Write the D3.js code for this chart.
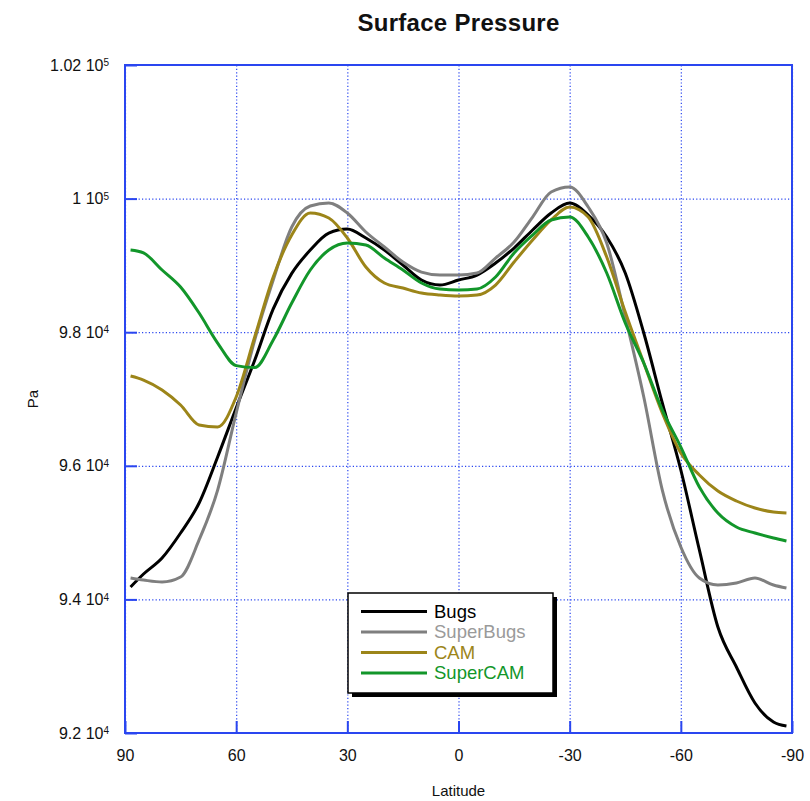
<!DOCTYPE html>
<html>
<head>
<meta charset="utf-8">
<script src="https://cdn.jsdelivr.net/npm/d3@7"></script>
<style>
  body { margin: 0; background: #fff; }
  svg { font-family: "Liberation Sans", Arial, sans-serif; }
</style>
</head>
<body>
<svg id="chart"></svg>
<script>
// latitude (deg), north to south
const lats = [88.5, 85, 80, 75, 70, 65, 60, 55, 50, 45, 40, 35, 30, 25, 20, 15, 10, 5, 0,
  -5, -10, -15, -20, -25, -30, -35, -40, -45, -50, -55, -60, -65, -70, -75, -80, -85, -88.5];

// surface pressure (Pa)
const bugs = [94186, 94380, 94620, 94994, 95443, 96132, 96865, 97580, 98350, 98880, 99230, 99485, 99545,
  99410, 99230, 99006, 98781, 98706, 98781, 98856, 99035, 99260, 99530, 99784, 99934,
  99754, 99425, 98886, 97988, 96940, 95937, 94740, 93587, 92988, 92449, 92165, 92105];
const superBugs = [94320, 94290, 94260, 94335, 94890, 95637, 96790, 97883, 98781, 99575, 99889, 99934, 99784,
  99500, 99275, 99050, 98900, 98856, 98856, 98886, 99110, 99350, 99724, 100099, 100174,
  99874, 99335, 98228, 97030, 95637, 94784, 94320, 94215, 94245, 94320, 94215, 94170];
const cam = [97344, 97284, 97135, 96910, 96611, 96581, 97030, 97928, 98826, 99455, 99784, 99709, 99410,
  98976, 98736, 98661, 98586, 98556, 98541, 98556, 98706, 99050, 99380, 99680, 99874,
  99724, 99125, 98302, 97539, 96790, 96191, 95862, 95622, 95473, 95368, 95308, 95293];
const superCam = [99230, 99186, 98931, 98676, 98287, 97838, 97500, 97470, 97883, 98437, 98931, 99230, 99335,
  99305, 99110, 98931, 98736, 98646, 98631, 98646, 98826, 99186, 99455, 99680, 99724,
  99425, 98886, 98138, 97539, 96835, 96281, 95682, 95293, 95084, 94994, 94919, 94874];

const seriesNames = ["Bugs", "SuperBugs", "CAM", "SuperCAM"];
const seriesValues = [bugs, superBugs, cam, superCam];

const xTicks = [90, 60, 30, 0, -30, -60, -90];
const yTicks = [92000, 94000, 96000, 98000, 100000, 102000];
const yTickMantissa = ["9.2", "9.4", "9.6", "9.8", "1", "1.02"];
const yTickExponent = ["4", "4", "4", "4", "5", "5"];

const lineColors = ["#000000", "#7f7f7f", "#9c8519", "#12962a"];
const textColors = ["#000000", "#9a9a9a", "#9c8519", "#12962a"];
const gridBlue = "#2a46f0";

const w = 810;
const h = 801;
const margin = { top: 65, right: 18, bottom: 68, left: 125 };

const svg = d3.select("#chart").attr("width", w).attr("height", h);

const x = d3.scaleLinear().domain([90, -90]).range([margin.left, w - margin.right]);
const y = d3.scaleLinear().domain([92000, 102000]).range([h - margin.bottom, margin.top]);

const pw = w - margin.left - margin.right;
const ph = h - margin.top - margin.bottom;

// dotted grid
svg.append("g")
  .attr("transform", `translate(0, ${h - margin.bottom})`)
  .call(d3.axisBottom(x).tickValues(xTicks).tickSize(-ph).tickFormat(""))
  .call(g => g.select(".domain").remove())
  .selectAll("line")
  .attr("stroke", gridBlue).attr("stroke-width", 1.2).attr("stroke-dasharray", "1.2,2.2");

svg.append("g")
  .attr("transform", `translate(${margin.left}, 0)`)
  .call(d3.axisLeft(y).tickValues(yTicks).tickSize(-pw).tickFormat(""))
  .call(g => g.select(".domain").remove())
  .selectAll("line")
  .attr("stroke", gridBlue).attr("stroke-width", 1.2).attr("stroke-dasharray", "1.2,2.2");

// lines
const line = d3.line()
  .x((d, i) => x(lats[i]))
  .y(d => y(d))
  .curve(d3.curveMonotoneX);

svg.append("g")
  .selectAll("path")
  .data(seriesValues)
  .enter()
  .append("path")
  .attr("d", d => line(d))
  .attr("fill", "none")
  .attr("stroke", (d, i) => lineColors[i])
  .attr("stroke-width", 3)
  .attr("stroke-linejoin", "round");

// frame
svg.append("rect")
  .attr("x", margin.left).attr("y", margin.top)
  .attr("width", pw).attr("height", ph)
  .attr("fill", "none").attr("stroke", gridBlue).attr("stroke-width", 2);

// axes with inward ticks
const xAxis = svg.append("g")
  .attr("transform", `translate(0, ${h - margin.bottom})`)
  .call(d3.axisBottom(x).tickValues(xTicks).tickSize(-12).tickPadding(17).tickFormat(d => String(d)));

const yAxis = svg.append("g")
  .attr("transform", `translate(${margin.left}, 0)`)
  .call(d3.axisLeft(y).tickValues(yTicks).tickSize(-12).tickPadding(16));

[xAxis, yAxis].forEach(g => {
  g.select(".domain").remove();
  g.selectAll(".tick line").attr("stroke", gridBlue).attr("stroke-width", 2);
  g.selectAll(".tick text").attr("fill", "#111").style("font-size", "16px");
});

yAxis.selectAll(".tick text")
  .text((d, i) => yTickMantissa[i] + " 10")
  .append("tspan")
  .attr("dy", "-0.45em")
  .style("font-size", "10px")
  .text((d, i) => yTickExponent[i]);

// title and axis labels
svg.append("text")
  .attr("x", x(0)).attr("y", 31)
  .attr("text-anchor", "middle")
  .style("font-size", "24px").style("font-weight", "bold")
  .style("letter-spacing", "0.3px")
  .attr("fill", "#111")
  .text("Surface Pressure");

svg.append("text")
  .attr("x", x(0)).attr("y", 796)
  .attr("text-anchor", "middle")
  .style("font-size", "15px")
  .attr("fill", "#111")
  .text("Latitude");

svg.append("text")
  .attr("transform", `translate(38, ${y(97000)}) rotate(-90)`)
  .attr("text-anchor", "middle")
  .style("font-size", "15px")
  .attr("fill", "#111")
  .text("Pa");

// legend
const lg = svg.append("g").attr("transform", "translate(348, 593)");
lg.append("rect").attr("x", 4).attr("y", 4).attr("width", 205).attr("height", 100).attr("fill", "#000");
lg.append("rect").attr("width", 205).attr("height", 100)
  .attr("fill", "#fff").attr("stroke", "#000").attr("stroke-width", 1.5);

const item = lg.selectAll(".item")
  .data(seriesNames)
  .enter()
  .append("g")
  .attr("transform", (d, i) => `translate(0, ${18.5 + i * 20.5})`);

item.append("line")
  .attr("x1", 13).attr("x2", 79)
  .attr("stroke", (d, i) => lineColors[i])
  .attr("stroke-width", 3);

item.append("text")
  .attr("x", 86).attr("dy", "0.35em")
  .style("font-size", "18.5px")
  .attr("fill", (d, i) => textColors[i])
  .text(d => d);
</script>
</body>
</html>
